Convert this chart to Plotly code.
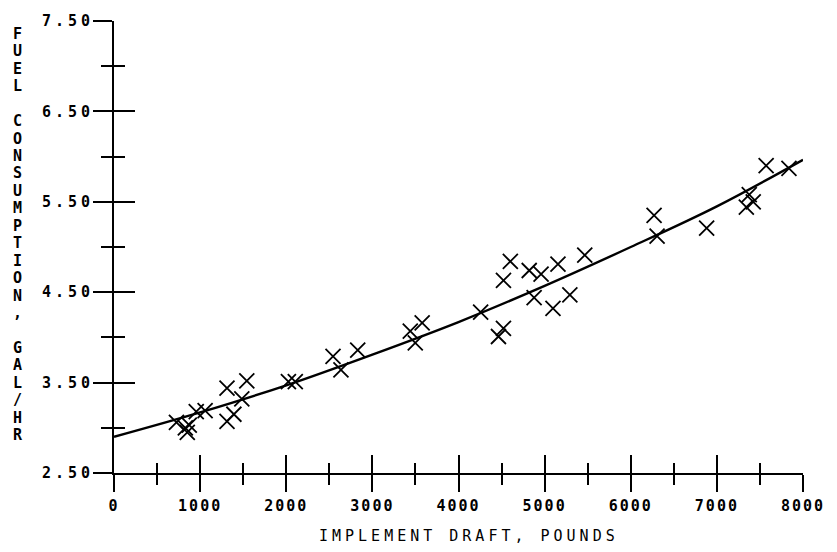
import plotly.graph_objects as go

# Observed implement draft (lb) and fuel consumption (gal/hr)
draft_lb = [725, 828, 851, 874, 955, 1058, 1312, 1542, 1312, 1392, 1484,
            2025, 2105, 2543, 2635, 2830, 3440, 3578, 3498,
            4257, 4464, 4522, 4522, 4602, 4821, 4959, 4878, 5155, 5097, 5293, 5466,
            6271, 6306, 6881, 7342, 7376, 7422, 7572, 7837]
fuel_gph = [3.06, 3.00, 2.95, 3.03, 3.18, 3.19, 3.44, 3.52, 3.07, 3.15, 3.32,
            3.51, 3.51, 3.79, 3.64, 3.86, 4.07, 4.16, 3.94,
            4.28, 4.01, 4.10, 4.63, 4.84, 4.74, 4.70, 4.44, 4.81, 4.32, 4.47, 4.91,
            5.35, 5.12, 5.21, 5.44, 5.58, 5.50, 5.90, 5.87]

# Fitted curve, read at each 1000 lb
curve_x = [0, 1000, 2000, 3000, 4000, 5000, 6000, 7000, 8000]
curve_y = [2.90, 3.17, 3.47, 3.81, 4.17, 4.57, 5.00, 5.45, 5.965]

# Axis ticks
x_major = [0, 1000, 2000, 3000, 4000, 5000, 6000, 7000, 8000]
x_minor = [500, 1500, 2500, 3500, 4500, 5500, 6500, 7500]
x_labels = ["0", "1000", "2000", "3000", "4000", "5000", "6000", "7000", "8000"]
y_major = [2.5, 3.5, 4.5, 5.5, 6.5, 7.5]
y_minor = [3.0, 4.0, 5.0, 6.0, 7.0]
y_labels = ["2.50", "3.50", "4.50", "5.50", "6.50", "7.50"]

x_title = "IMPLEMENT DRAFT, POUNDS"
y_title = "FUEL CONSUMPTION, GAL/HR"

W, H = 837, 552
ML, MR, MT, MB = 114, 28, 17, 79
PW, PH = W - ML - MR, H - MT - MB

FONT = "DejaVu Sans Mono"
INK = "black"


def spaced(s, px):
    return f'<span style="letter-spacing:{px}px">{s}</span>'


fig = go.Figure()

fig.add_trace(go.Scatter(
    x=curve_x, y=curve_y, mode="lines", line=dict(color=INK, width=2.4, shape="spline"),
    hoverinfo="skip", showlegend=False,
))
fig.add_trace(go.Scatter(
    x=draft_lb, y=fuel_gph, mode="markers",
    marker=dict(symbol="x-thin", size=15, line=dict(color=INK, width=1.8)),
    showlegend=False, cliponaxis=False,
))
# Empty trace that brings up the overlaid axis pair carrying the inward ticks
fig.add_trace(go.Scatter(x=[], y=[], xaxis="x2", yaxis="y2", showlegend=False,
                         hoverinfo="skip"))

annotations = [dict(
    text=spaced(x_title, 4), xref="paper", yref="paper",
    x=(472 - ML) / PW, y=(H - MB - 537) / PH, xanchor="center", yanchor="middle",
    showarrow=False, font=dict(family=FONT, size=15, color=INK),
)]
# Vertical title, one upright letter per line
for i, ch in enumerate(y_title):
    if ch == " ":
        continue
    py = 30 + i * 17.6
    annotations.append(dict(
        text=ch, xref="paper", yref="paper",
        x=(17 - ML) / PW, y=(H - MB - py) / PH, xanchor="center", yanchor="middle",
        showarrow=False, font=dict(family=FONT, size=15, color=INK, weight="bold"),
    ))

tick_font = dict(family=FONT, size=15, color=INK, weight="bold")
common = dict(showgrid=False, zeroline=False, tickcolor=INK, tickwidth=2)

fig.update_layout(
    width=W, height=H, margin=dict(l=ML, r=MR, t=MT, b=MB),
    paper_bgcolor="white", plot_bgcolor="white",
    annotations=annotations,
    xaxis=dict(range=[0, 8000], showline=True, linecolor=INK, linewidth=2,
               ticks="outside", ticklen=17, tickvals=x_major,
               ticktext=[spaced(t, 2) for t in x_labels],
               ticklabelstandoff=1, tickfont=tick_font,
               minor=dict(tickvals=x_minor, ticks="outside", ticklen=10,
                          tickcolor=INK, tickwidth=2),
               **common),
    yaxis=dict(range=[2.5, 7.5], showline=True, linecolor=INK, linewidth=2,
               ticks="outside", ticklen=19, tickvals=y_major,
               ticktext=[spaced(t, 4) for t in y_labels],
               ticklabelstandoff=-4, tickfont=tick_font,
               minor=dict(tickvals=y_minor, ticks="outside", ticklen=11,
                          tickcolor=INK, tickwidth=2),
               **common),
    xaxis2=dict(range=[0, 8000], overlaying="x", anchor="y2", side="bottom",
                showline=False, showticklabels=False,
                ticks="inside", ticklen=18, tickvals=x_major,
                minor=dict(tickvals=x_minor, ticks="inside", ticklen=10,
                           tickcolor=INK, tickwidth=2),
                **common),
    yaxis2=dict(range=[2.5, 7.5], overlaying="y", anchor="x2", side="left",
                showline=False, showticklabels=False,
                ticks="inside", ticklen=21, tickvals=y_major,
                minor=dict(tickvals=y_minor, ticks="inside", ticklen=11,
                           tickcolor=INK, tickwidth=2),
                **common),
)

fig.write_html("out.html")
